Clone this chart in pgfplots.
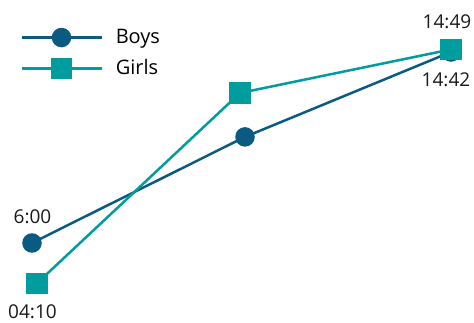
\documentclass[border=0pt]{standalone}
\usepackage{pgfplots}
\pgfplotsset{compat=1.18}
\usepackage{fontspec}
\setmainfont{Open Sans}
\definecolor{boys}{HTML}{0B5A82}
\definecolor{girls}{HTML}{009C9E}
\begin{document}
\begin{tikzpicture}
\begin{axis}[
  scale only axis, width=474pt, height=323pt,
  xmin=0, xmax=474, ymin=141.4, ymax=1024.1,
  hide axis, clip=false,
  legend style={at={(rel axis cs:0.036,0.92)}, anchor=north west, draw=none, fill=none,
    font=\fontsize{20}{24}\selectfont, column sep=13pt, row sep=12pt,
    nodes={inner sep=0pt, text height=15pt, text depth=4pt}},
  legend cell align=left,
  legend image code/.code={\draw[mark repeat=2,mark phase=2] plot coordinates {(0pt,0pt)(40pt,0pt)(80pt,0pt)};},
]
\path (rel axis cs:0,0) rectangle (rel axis cs:1,1);
\addplot[boys, line width=2.5pt, mark=*, mark size=8.5pt, mark options={solid}] coordinates {(32,360) (245,650) (451,882)};
\addlegendentry{Boys}
\addplot[girls, line width=2.5pt, mark=square*, mark size=9.5pt, mark options={solid}] coordinates {(37,250) (240,770) (451,889)};
\addlegendentry{Girls}
\begin{scope}[every node/.style={font=\fontsize{19}{23}\selectfont, text=black!90, text depth=0pt, inner sep=0pt}]
\node at (axis cs:32.5,431.8) {6:00};
\node at (axis cs:32.5,172.2) {04:10};
\node at (axis cs:447,964.8) {14:49};
\node at (axis cs:446,805.5) {14:42};
\end{scope}
\end{axis}
\end{tikzpicture}
\end{document}
